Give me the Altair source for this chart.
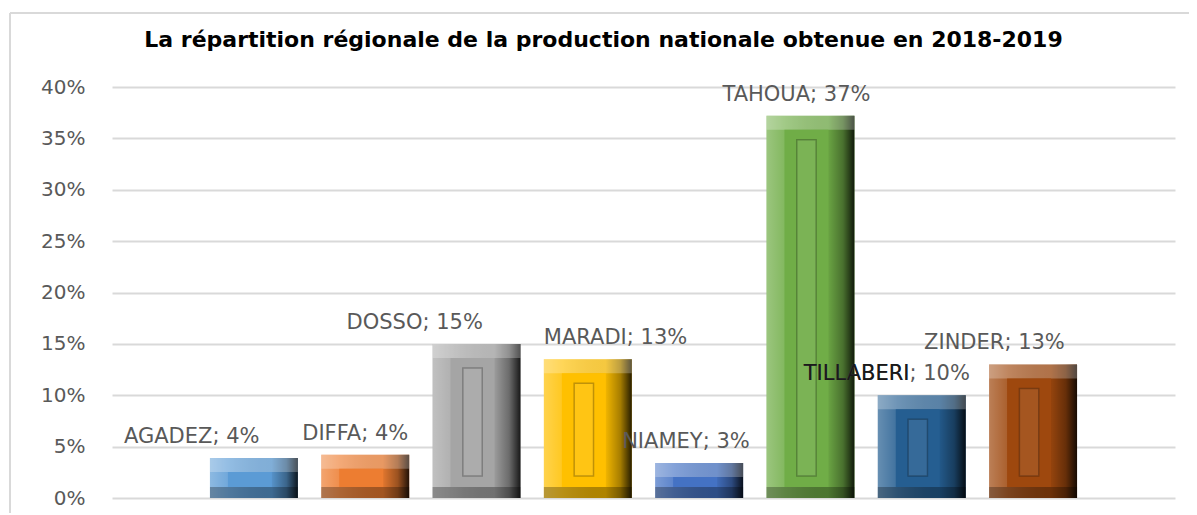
import altair as alt
import pandas as pd

regions = ["AGADEZ", "DIFFA", "DOSSO", "MARADI", "NIAMEY", "TAHOUA", "TILLABERI", "ZINDER"]
shares = [3.9, 4.2, 15.0, 13.5, 3.4, 37.2, 10.0, 13.0]  # percent
pct_labels = ["4%", "4%", "15%", "13%", "3%", "37%", "10%", "13%"]
colors = ["#5B9BD5", "#ED7D31", "#A5A5A5", "#FFC000", "#4472C4", "#70AD47", "#255E91", "#9E480E"]
y_ticks = [0, 0.05, 0.10, 0.15, 0.20, 0.25, 0.30, 0.35, 0.40]
title_text = "La répartition régionale de la production nationale obtenue en 2018-2019"

df = pd.DataFrame({
    "region": regions,
    "share": [s / 100 for s in shares],
    "label": [f"{r}; {p}" for r, p in zip(regions, pct_labels)],
})

# styling: horizontal nudge (px) of each data label's left edge from its bar centre
label_nudge = {"AGADEZ": -130, "DIFFA": -63, "DOSSO": -130, "MARADI": -44,
               "NIAMEY": -77, "TAHOUA": -88, "TILLABERI": -118, "ZINDER": -109}

W, H = 1063, 411
FONT = "DejaVu Sans"
LBL = 21

x = alt.X("region:N", sort=regions, axis=None,
          scale=alt.Scale(paddingInner=0.21, paddingOuter=0.88))
y = alt.Y("share:Q", scale=alt.Scale(domain=[0, 0.4]),
          axis=alt.Axis(format=".0%", values=y_ticks, grid=True, gridColor="#d9d9d9",
                        gridWidth=2, domain=False, ticks=False, labelPadding=27,
                        labelFontSize=20, labelColor="#595959", labelFont=FONT, title=None))
col = alt.Color("region:N", scale=alt.Scale(domain=regions, range=colors), legend=None)

base = alt.Chart(df)

bars = base.mark_bar().encode(x=x, y=y, color=col)

shade = base.mark_bar(
    color=alt.LinearGradient(
        gradient="linear", x1=0, x2=1, y1=0, y2=0,
        stops=[
            alt.GradientStop(offset=0, color="rgba(255,255,255,0.30)"),
            alt.GradientStop(offset=0.22, color="rgba(255,255,255,0.12)"),
            alt.GradientStop(offset=0.70, color="rgba(0,0,0,0.05)"),
            alt.GradientStop(offset=0.87, color="rgba(0,0,0,0.35)"),
            alt.GradientStop(offset=1, color="rgba(0,0,0,0.85)"),
        ],
    )
).encode(x=x, y=y)

top_bevel = base.mark_bar(color="white", opacity=0.25, y2Offset=14).encode(
    x=x, y=y, y2=alt.Y2("share:Q"))

bottom_bevel = base.mark_bar(color="black", opacity=0.28, yOffset=-11).encode(
    x=x, y=alt.Y(datum=0, scale=alt.Scale(domain=[0, 0.4])), y2=alt.Y2(datum=0))

face = base.mark_bar(width={"band": 0.5}, xOffset=-4, yOffset=14, y2Offset=-11).encode(
    x=x, y=y, y2=alt.Y2(datum=0), color=col)

panel = base.transform_filter("datum.share > 0.08").mark_bar(
    width={"band": 0.22}, xOffset=-4, yOffset=24, y2Offset=-22,
    fill="white", fillOpacity=0.08, stroke="black", strokeOpacity=0.25, strokeWidth=1.5
).encode(x=x, y=y, y2=alt.Y2(datum=0))

label_layers = [
    base.transform_filter(alt.datum.region == r).mark_text(
        dy=-21, dx=label_nudge[r], align="left", baseline="middle", fontSize=LBL,
        color="#595959", font=FONT
    ).encode(x=x, y=y, text="label:N")
    for r in regions
]
# the TILLABERI name is printed darker in the original
dark_name = base.transform_filter(alt.datum.region == "TILLABERI").mark_text(
    dy=-21, dx=label_nudge["TILLABERI"], align="left", baseline="middle", fontSize=LBL,
    color="#1a1a1a", font=FONT
).encode(x=x, y=y, text="region:N")

# chart-area frame: only its left and top edges show in the original
frame_left = alt.Chart(pd.DataFrame({"k": [0]})).mark_rule(color="#d9d9d9", strokeWidth=2).encode(
    x=alt.value(-102), y=alt.value(-74), y2=alt.value(H + 60))
frame_top = alt.Chart(pd.DataFrame({"k": [0]})).mark_rule(color="#d9d9d9", strokeWidth=2).encode(
    x=alt.value(-102), x2=alt.value(W + 14), y=alt.value(-74))

chart = alt.layer(
    frame_left, frame_top, bars, shade, top_bevel, bottom_bevel, face, panel,
    *label_layers, dark_name
).properties(
    width=W, height=H,
    title=alt.TitleParams(title_text, fontSize=22, font=FONT, fontWeight="bold", color="black",
                          anchor="middle", frame="group", offset=-40, dx=-40),
    autosize=alt.AutoSizeParams(type="none"),
    padding={"left": 104, "top": 79, "right": 14, "bottom": 15},
).configure(background="white", view=alt.ViewConfig(stroke=None))

chart.save("out.html", embed_options={"renderer": "svg", "actions": False})
